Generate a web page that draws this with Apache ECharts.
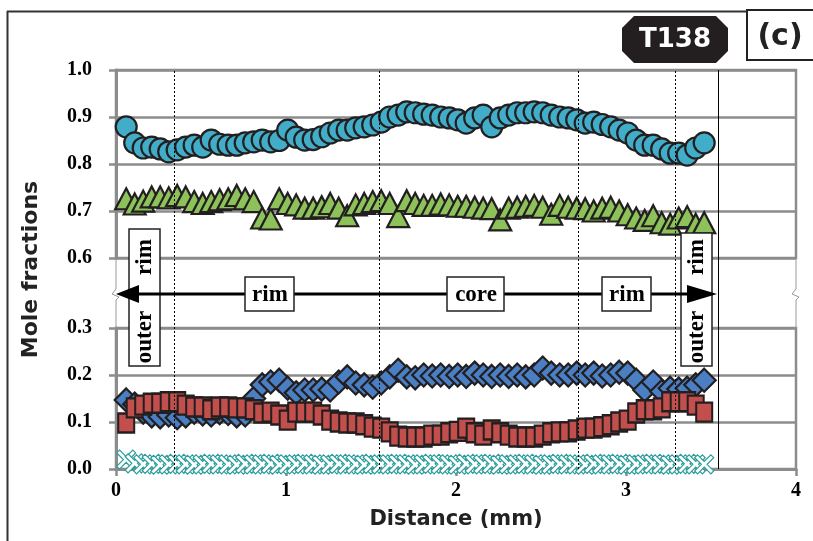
<!DOCTYPE html>
<html>
<head>
<meta charset="utf-8">
<script src="https://cdn.jsdelivr.net/npm/echarts@6.0.0/dist/echarts.min.js"></script>
<style>
html, body { margin: 0; padding: 0; background: #fff; }
#main { width: 813px; height: 541px; }
</style>
</head>
<body>
<div id="main"></div>
<script>
// distance along the traverse (mm)
var distance = [0.06, 0.11, 0.16, 0.21, 0.26, 0.31, 0.36, 0.41, 0.46, 0.51, 0.56, 0.61, 0.66, 0.71, 0.76, 0.81, 0.86, 0.91, 0.96, 1.01,
	1.06, 1.11, 1.16, 1.21, 1.26, 1.31, 1.36, 1.41, 1.46, 1.51, 1.56, 1.61, 1.66, 1.71, 1.76, 1.81, 1.86, 1.91, 1.96, 2.01,
	2.06, 2.11, 2.16, 2.21, 2.26, 2.31, 2.36, 2.41, 2.46, 2.51, 2.56, 2.61, 2.66, 2.71, 2.76, 2.81, 2.86, 2.91, 2.96, 3.01,
	3.06, 3.11, 3.16, 3.21, 3.26, 3.31, 3.36, 3.41, 3.46];

// upper panel
var circleVals = [0.879, 0.845, 0.834, 0.836, 0.832, 0.826, 0.830, 0.836, 0.840, 0.836, 0.851, 0.842, 0.840, 0.840, 0.845, 0.847, 0.851, 0.847, 0.850, 0.872,
	0.857, 0.851, 0.852, 0.858, 0.866, 0.872, 0.872, 0.877, 0.879, 0.883, 0.889, 0.900, 0.904, 0.911, 0.909, 0.906, 0.904, 0.900, 0.898, 0.894,
	0.887, 0.898, 0.904, 0.879, 0.898, 0.904, 0.909, 0.909, 0.911, 0.909, 0.904, 0.900, 0.898, 0.894, 0.887, 0.889, 0.884, 0.879, 0.872, 0.866,
	0.851, 0.840, 0.840, 0.832, 0.823, 0.823, 0.819, 0.834, 0.845];
var triangleVals = [0.726, 0.715, 0.721, 0.730, 0.730, 0.728, 0.733, 0.730, 0.720, 0.716, 0.720, 0.724, 0.726, 0.733, 0.726, 0.720, 0.685, 0.683, 0.726, 0.716,
	0.713, 0.706, 0.706, 0.709, 0.716, 0.706, 0.690, 0.713, 0.716, 0.720, 0.722, 0.716, 0.688, 0.722, 0.716, 0.712, 0.712, 0.715, 0.713, 0.710,
	0.710, 0.708, 0.706, 0.705, 0.681, 0.706, 0.708, 0.710, 0.712, 0.708, 0.693, 0.712, 0.708, 0.706, 0.705, 0.700, 0.706, 0.708, 0.700, 0.692,
	0.685, 0.680, 0.690, 0.675, 0.672, 0.685, 0.688, 0.672, 0.675];

// lower panel
var diamondVals = [0.147, 0.138, 0.121, 0.113, 0.111, 0.115, 0.109, 0.113, 0.121, 0.117, 0.115, 0.120, 0.118, 0.113, 0.115, 0.150, 0.179, 0.185, 0.189, 0.172,
	0.162, 0.168, 0.168, 0.170, 0.168, 0.185, 0.196, 0.183, 0.179, 0.174, 0.183, 0.196, 0.210, 0.196, 0.194, 0.200, 0.198, 0.200, 0.197, 0.200,
	0.197, 0.204, 0.200, 0.197, 0.200, 0.197, 0.200, 0.196, 0.200, 0.215, 0.204, 0.200, 0.200, 0.204, 0.200, 0.204, 0.198, 0.200, 0.206, 0.204,
	0.189, 0.168, 0.185, 0.165, 0.172, 0.170, 0.172, 0.179, 0.189];
var squareVals = [0.098, 0.130, 0.136, 0.140, 0.140, 0.143, 0.143, 0.136, 0.132, 0.132, 0.126, 0.132, 0.132, 0.130, 0.130, 0.126, 0.119, 0.121, 0.115, 0.104,
	0.121, 0.121, 0.121, 0.115, 0.104, 0.100, 0.098, 0.098, 0.094, 0.089, 0.087, 0.079, 0.070, 0.068, 0.068, 0.068, 0.072, 0.072, 0.077, 0.080,
	0.087, 0.077, 0.072, 0.083, 0.077, 0.072, 0.068, 0.068, 0.068, 0.072, 0.077, 0.079, 0.079, 0.083, 0.087, 0.087, 0.090, 0.094, 0.100, 0.104,
	0.119, 0.126, 0.126, 0.130, 0.143, 0.143, 0.143, 0.136, 0.121];
var crossVals = [0.020, 0.012, 0.010, 0.011, 0.009, 0.010, 0.011, 0.010, 0.009, 0.010, 0.011, 0.010, 0.010, 0.009, 0.011, 0.010, 0.010, 0.011, 0.009, 0.010,
	0.010, 0.011, 0.010, 0.009, 0.010, 0.011, 0.010, 0.010, 0.009, 0.011, 0.010, 0.010, 0.011, 0.010, 0.009, 0.010, 0.011, 0.010, 0.010, 0.009,
	0.011, 0.010, 0.010, 0.011, 0.009, 0.010, 0.010, 0.011, 0.010, 0.009, 0.010, 0.011, 0.010, 0.010, 0.009, 0.011, 0.010, 0.010, 0.011, 0.009,
	0.010, 0.010, 0.011, 0.010, 0.009, 0.010, 0.011, 0.010, 0.010];

// zone boundaries (mm)
var dottedAt = [0.335, 1.553, 2.724, 3.288];
var solidAt = 3.535;

function pairs(vals) {
	return vals.map(function (v, i) { return [distance[i], v]; });
}

var dom = document.getElementById('main');
var myChart = echarts.init(dom, null, { renderer: 'canvas' });

var gray = '#8c8c8c';
var edge = '#231f20';
var tickFont = {
	color: '#000',
	fontFamily: '"Liberation Serif", "Times New Roman", serif',
	fontWeight: 'bold',
	fontSize: 20
};
var fmt = function (v) { return v.toFixed(1); };

var markLines = dottedAt.map(function (x) {
	return { xAxis: x, lineStyle: { color: '#000', width: 1, type: [2, 2] } };
});
markLines.push({ xAxis: solidAt, lineStyle: { color: '#000', width: 1, type: 'solid' } });

var crossPath = 'path://M0,3 L3,0 L10,7 L17,0 L20,3 L13,10 L20,17 L17,20 L10,13 L3,20 L0,17 L7,10 Z';

var option = {
	animation: false,
	backgroundColor: '#fff',
	grid: [
		{ left: 116, right: 17, top: 70, height: 188, show: true, borderColor: gray, borderWidth: 2.5, outerBoundsMode: 'none' },
		{ left: 116, right: 17, top: 328, height: 141, show: true, borderColor: gray, borderWidth: 2.5, outerBoundsMode: 'none' },
		{ left: 116, right: 17, top: 70, bottom: 72, show: false, outerBoundsMode: 'none' }
	],
	xAxis: [
		{ gridIndex: 0, type: 'value', min: 0, max: 4, interval: 1, show: false },
		{
			gridIndex: 1, type: 'value', min: 0, max: 4, interval: 1,
			axisLine: { show: true, lineStyle: { color: gray, width: 3 } },
			axisTick: { show: true, length: 7, lineStyle: { color: gray, width: 2.5 } },
			axisLabel: Object.assign({ margin: 12 }, tickFont),
			splitLine: { show: false },
			name: 'Distance (mm)',
			nameLocation: 'middle',
			nameGap: 40,
			nameTextStyle: { color: '#222', fontFamily: '"DejaVu Sans", sans-serif', fontWeight: 'bold', fontSize: 21 }
		},
		{ gridIndex: 2, type: 'value', min: 0, max: 4, show: false }
	],
	yAxis: [
		{
			gridIndex: 0, type: 'value', min: 0.6, max: 1.0, interval: 0.1,
			axisLine: { show: true, lineStyle: { color: gray, width: 3 } },
			axisTick: { show: true, length: 7, lineStyle: { color: gray, width: 2.5 } },
			axisLabel: Object.assign({ margin: 24, formatter: fmt }, tickFont),
			splitLine: { show: true, lineStyle: { color: gray, width: 2.5 } }
		},
		{
			gridIndex: 1, type: 'value', min: 0, max: 0.3, interval: 0.1,
			axisLine: { show: true, lineStyle: { color: gray, width: 3 } },
			axisTick: { show: true, length: 7, lineStyle: { color: gray, width: 2.5 } },
			axisLabel: Object.assign({ margin: 24, formatter: fmt }, tickFont),
			splitLine: { show: true, lineStyle: { color: gray, width: 2.5 } }
		},
		{
			gridIndex: 2, type: 'value', min: 0, max: 1,
			axisLine: { show: false }, axisTick: { show: false }, axisLabel: { show: false }, splitLine: { show: false },
			name: 'Mole fractions',
			nameLocation: 'middle',
			nameGap: 74,
			nameTextStyle: { color: '#222', fontFamily: '"DejaVu Sans", sans-serif', fontWeight: 'bold', fontSize: 22 }
		}
	],
	series: [
		{
			name: 'zones', type: 'line', xAxisIndex: 2, yAxisIndex: 2, data: [],
			markLine: { silent: true, symbol: 'none', label: { show: false }, data: markLines }
		},
		{
			name: 'triangles', type: 'scatter', xAxisIndex: 0, yAxisIndex: 0,
			symbol: 'triangle', symbolSize: [22, 21],
			itemStyle: { color: '#8dc15a', borderColor: edge, borderWidth: 2.2, opacity: 1 },
			data: pairs(triangleVals)
		},
		{
			name: 'circles', type: 'scatter', xAxisIndex: 0, yAxisIndex: 0,
			symbol: 'circle', symbolSize: 21,
			itemStyle: { color: '#41adc8', borderColor: edge, borderWidth: 2.2, opacity: 1 },
			data: pairs(circleVals)
		},
		{
			name: 'crosses', type: 'scatter', xAxisIndex: 1, yAxisIndex: 1,
			symbol: crossPath, symbolSize: 19,
			itemStyle: { color: '#ffffff', borderColor: '#2a9d9a', borderWidth: 1.2, opacity: 1 },
			data: pairs(crossVals)
		},
		{
			name: 'diamonds', type: 'scatter', xAxisIndex: 1, yAxisIndex: 1,
			symbol: 'diamond', symbolSize: [23, 23],
			itemStyle: { color: '#4a7fc4', borderColor: edge, borderWidth: 2.2, opacity: 1 },
			data: pairs(diamondVals)
		},
		{
			name: 'squares', type: 'scatter', xAxisIndex: 1, yAxisIndex: 1,
			symbol: 'rect', symbolSize: [16, 19],
			itemStyle: { color: '#c24f4c', borderColor: edge, borderWidth: 2.2, opacity: 1 },
			data: pairs(squareVals)
		}
	],
	graphic: [
		// outer frame
		{ type: 'line', z: 20, shape: { x1: 7.5, y1: 11, x2: 7.5, y2: 541 }, style: { stroke: '#333', lineWidth: 2 } },
		{ type: 'line', z: 20, shape: { x1: 7, y1: 11.5, x2: 747, y2: 11.5 }, style: { stroke: '#333', lineWidth: 2 } },
		// axis breaks
		{ type: 'polyline', z: 20, shape: { points: [[116, 259], [116, 289], [112, 294], [119, 297], [116, 300], [116, 328]] }, style: { stroke: '#999', lineWidth: 1, fill: null } },
		{ type: 'polyline', z: 20, shape: { points: [[796, 259], [796, 289], [792, 294], [799, 297], [796, 300], [796, 328]] }, style: { stroke: '#999', lineWidth: 1, fill: null } },
		// sample tag
		{ type: 'polygon', z: 20, shape: { points: [[634, 16], [716, 16], [728, 28], [728, 51], [716, 63], [634, 63], [622, 51], [622, 28]] }, style: { fill: '#231f20' } },
		{ type: 'text', z: 21, x: 675, y: 40, style: { text: 'T138', fill: '#fff', font: 'bold 26px "DejaVu Sans", sans-serif', align: 'center', verticalAlign: 'middle' } },
		{ type: 'rect', z: 20, shape: { x: 747, y: 10, width: 70, height: 50 }, style: { fill: '#fff', stroke: '#222', lineWidth: 2 } },
		{ type: 'text', z: 21, x: 780, y: 37, style: { text: '(c)', fill: '#222', font: 'bold 30px "DejaVu Sans", sans-serif', align: 'center', verticalAlign: 'middle' } },
		// outer rim boxes
		{ type: 'rect', z: 20, shape: { x: 129, y: 229, width: 31, height: 137 }, style: { fill: '#fff', stroke: '#222', lineWidth: 1.5 } },
		{ type: 'text', z: 21, x: 145, y: 257, rotation: Math.PI / 2, style: { text: 'rim', fill: '#000', font: 'bold 23px "Liberation Serif", serif', align: 'center', verticalAlign: 'middle' } },
		{ type: 'text', z: 21, x: 145, y: 337, rotation: Math.PI / 2, style: { text: 'outer', fill: '#000', font: 'bold 23px "Liberation Serif", serif', align: 'center', verticalAlign: 'middle' } },
		{ type: 'rect', z: 20, shape: { x: 681, y: 233, width: 31, height: 133 }, style: { fill: '#fff', stroke: '#222', lineWidth: 1.5 } },
		{ type: 'text', z: 21, x: 697, y: 257, rotation: Math.PI / 2, style: { text: 'rim', fill: '#000', font: 'bold 23px "Liberation Serif", serif', align: 'center', verticalAlign: 'middle' } },
		{ type: 'text', z: 21, x: 697, y: 337, rotation: Math.PI / 2, style: { text: 'outer', fill: '#000', font: 'bold 23px "Liberation Serif", serif', align: 'center', verticalAlign: 'middle' } },
		// arrow
		{ type: 'line', z: 22, shape: { x1: 136, y1: 294, x2: 690, y2: 294 }, style: { stroke: '#000', lineWidth: 3 } },
		{ type: 'polygon', z: 22, shape: { points: [[116, 294], [139, 285], [139, 303]] }, style: { fill: '#000' } },
		{ type: 'polygon', z: 22, shape: { points: [[717, 294], [687, 285], [687, 303]] }, style: { fill: '#000' } },
		// zone labels
		{ type: 'rect', z: 23, shape: { x: 245, y: 277, width: 49, height: 34 }, style: { fill: '#fff', stroke: '#222', lineWidth: 1.5 } },
		{ type: 'text', z: 24, x: 270, y: 295, style: { text: 'rim', fill: '#000', font: 'bold 23px "Liberation Serif", serif', align: 'center', verticalAlign: 'middle' } },
		{ type: 'rect', z: 23, shape: { x: 447, y: 277, width: 57, height: 34 }, style: { fill: '#fff', stroke: '#222', lineWidth: 1.5 } },
		{ type: 'text', z: 24, x: 476, y: 295, style: { text: 'core', fill: '#000', font: 'bold 23px "Liberation Serif", serif', align: 'center', verticalAlign: 'middle' } },
		{ type: 'rect', z: 23, shape: { x: 602, y: 277, width: 49, height: 34 }, style: { fill: '#fff', stroke: '#222', lineWidth: 1.5 } },
		{ type: 'text', z: 24, x: 627, y: 295, style: { text: 'rim', fill: '#000', font: 'bold 23px "Liberation Serif", serif', align: 'center', verticalAlign: 'middle' } }
	]
};

if (option && typeof option === 'object') {
	myChart.setOption(option, true);
}
</script>
</body>
</html>
